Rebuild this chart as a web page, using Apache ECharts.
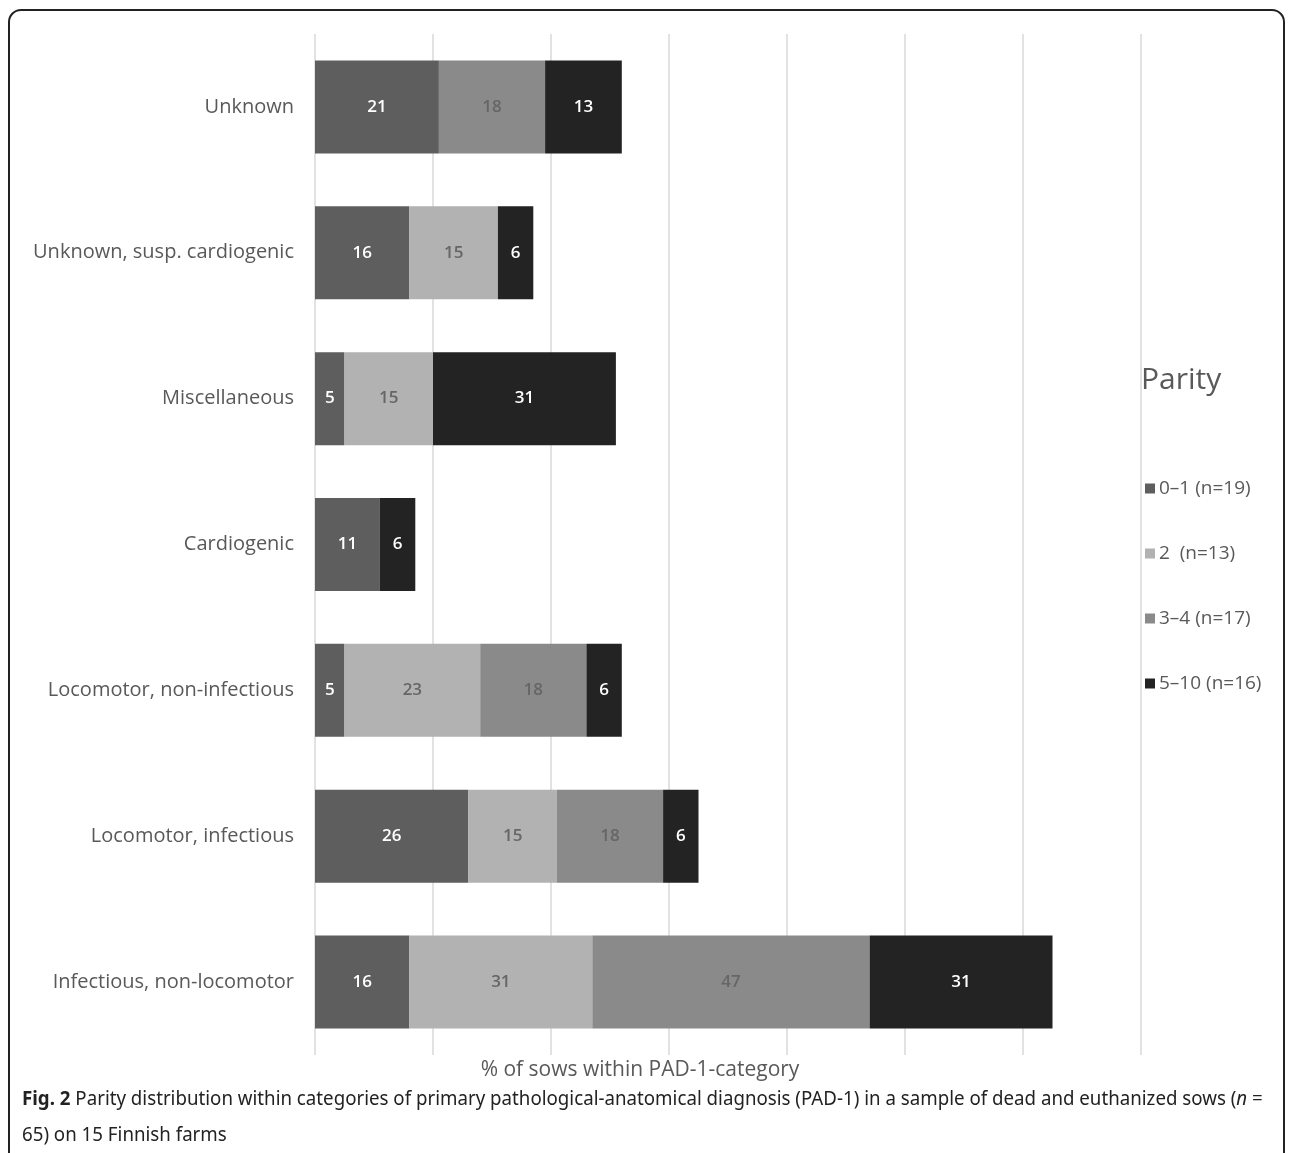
<!DOCTYPE html>
<html>
<head>
<meta charset="utf-8">
<script src="https://cdn.jsdelivr.net/npm/echarts@6/dist/echarts.min.js"></script>
<style>
html,body{margin:0;padding:0;background:#fff;}
#chart{width:1293px;height:1153px;}
</style>
</head>
<body>
<div id="chart"></div>
<script>
const categories = ["Unknown","Unknown, susp. cardiogenic","Miscellaneous","Cardiogenic","Locomotor, non-infectious","Locomotor, infectious","Infectious, non-locomotor"];
const seriesNames = ["0\u20131 (n=19)","2  (n=13)","3\u20134 (n=17)","5\u201310 (n=16)"];
const parity01 = [21,16,5,11,5,26,16];
const parity2 = ['-',15,15,'-',23,15,31];
const parity34 = [18,'-','-','-',18,18,47];
const parity510 = [13,6,31,6,6,6,31];
const seriesColors = ['#5e5e5e','#b2b2b2','#8a8a8a','#232323'];
const labelColors = ['#ffffff','#666666','#666666','#ffffff'];
const axisTitle = "% of sows within PAD-1-category";

const values = [parity01, parity2, parity34, parity510];
const chart = echarts.init(document.getElementById('chart'));
const font = '"Open Sans", "Noto Sans", sans-serif';
const capFont = '"Noto Sans", sans-serif';
chart.setOption({
  animation:false,
  backgroundColor:'#fff',
  textStyle:{fontFamily:font},
  title:{text:'Parity',left:1136,top:360,textStyle:{fontSize:30,fontWeight:'normal',color:'#595959',fontFamily:font}},
  legend:{
    orient:'vertical',left:1140,top:474,itemWidth:10,itemHeight:10,itemGap:46,icon:'rect',
    textStyle:{fontSize:19,color:'#595959',fontFamily:font,padding:[6,0,0,-1]},
    data:seriesNames
  },
  grid:{left:315,right:152,top:34,bottom:98,containLabel:false},
  xAxis:{
    type:'value',min:0,max:140,interval:20,
    axisLabel:{show:false},axisTick:{show:false},axisLine:{show:false},
    splitLine:{show:true,lineStyle:{color:'#d9d9d9',width:1.5}}
  },
  yAxis:{
    type:'category',data:categories,inverse:true,
    axisLine:{show:false},axisTick:{show:false},
    axisLabel:{fontSize:20,color:'#595959',margin:21,fontFamily:font,padding:[4,0,0,0]}
  },
  series:seriesNames.map((n,i)=>({
    name:n,type:'bar',stack:'total',data:values[i],barWidth:93,
    itemStyle:{color:seriesColors[i]},
    label:{show:true,position:'inside',color:labelColors[i],fontSize:17,fontWeight:600,fontFamily:font}
  })),
  graphic:[
    {type:'rect',shape:{x:9,y:10,width:1275,height:1170,r:12},style:{fill:'none',stroke:'#222',lineWidth:2},silent:true},
    {type:'text',x:640,y:1070,style:{text:axisTitle,fontSize:21,fill:'#595959',fontFamily:font,align:'center',verticalAlign:'middle'}},
    {type:'text',x:22,y:1081,scaleX:0.935,style:{
      text:'{b|Fig. 2}{t| Parity distribution within categories of primary pathological-anatomical diagnosis (PAD-1) in a sample of dead and euthanized sows (}{i|n}{t| =}\n{t|65) on 15 Finnish farms}',
      rich:{
        b:{fontWeight:'bold',fontSize:20,fontFamily:capFont,fill:'#222',lineHeight:36},
        t:{fontSize:20,fontFamily:capFont,fill:'#222',lineHeight:36},
        i:{fontSize:20,fontStyle:'italic',fontFamily:capFont,fill:'#222',lineHeight:36}
      }
    }}
  ]
});
</script>
</body>
</html>
